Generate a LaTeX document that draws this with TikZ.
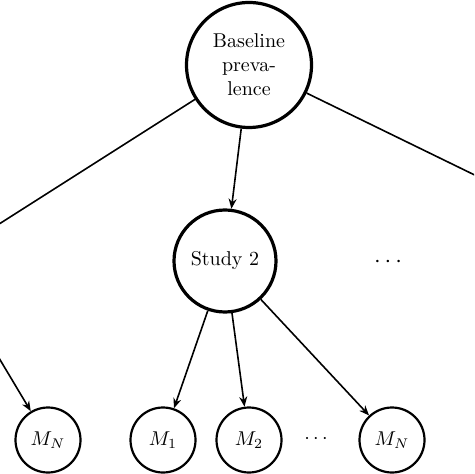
\documentclass[tikz,border=0pt]{standalone}
\usetikzlibrary{arrows.meta}
\tikzset{
  bignode/.style={circle, draw, line width=1.6pt, inner sep=0pt, align=center, font=\normalsize},
  mnode/.style={circle, draw, line width=1.1pt, inner sep=0pt, minimum size=32.5pt},
  conn/.style={line width=0.8pt, -{Stealth[length=5pt,width=4pt]}},
}
\begin{document}
\begin{tikzpicture}[x=0.5pt, y=-0.5pt]
  \useasboundingbox (0,0) rectangle (474,474);
  \clip (0,0) rectangle (474,474);
  \fill[white] (0,0) rectangle (474,474);
  % top node
  \node[bignode, minimum size=62.5pt] (B) at (249,65) {Baseline\\preva-\\lence};
  \node[bignode, minimum size=51pt] (S2) at (225,261) {Study 2};
  \coordinate (S1) at (-59,261);
  \coordinate (S3) at (651,261);
  \node[font=\large] (D1) at (388,262) {$\cdots$};
  % bottom nodes
  \node[mnode] (MNl) at (48,440) {$M_N$};
  \node[mnode] (M1) at (163,440) {$M_1$};
  \node[mnode] (M2) at (249,440) {$M_2$};
  \node (D2) at (316,439) {$\cdots$};
  \node[mnode] (MNr) at (392,440) {$M_N$};
  % connectors
  \draw[conn] (B) -- (S1);
  \draw[conn] (B) -- (S2);
  \draw[conn] (B) -- (S3);
  \draw[conn] (S1) -- (MNl);
  \draw[conn] (S2) -- (M1);
  \draw[conn] (S2) -- (M2);
  \draw[conn] (S2) -- (MNr);
\end{tikzpicture}
\end{document}
